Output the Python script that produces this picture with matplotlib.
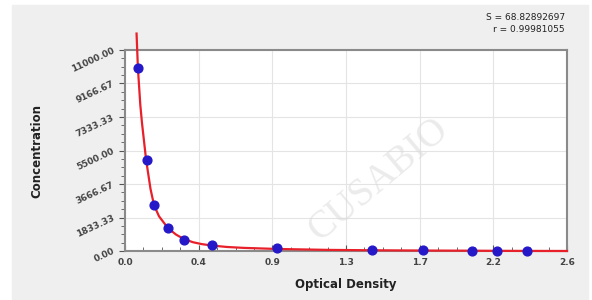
import numpy as np
import matplotlib.pyplot as plt
from matplotlib.ticker import FixedLocator, AutoMinorLocator

# standard points
od = [0.076, 0.128, 0.170, 0.253, 0.347, 0.512, 0.894, 1.453, 1.753, 2.041, 2.188, 2.365]
conc = [10000, 5000, 2500, 1250, 625, 312, 156, 78, 39, 19.5, 9.75, 0]

# fitted curve
curve_x = [0.068, 0.076, 0.09, 0.10, 0.124, 0.15, 0.171, 0.20, 0.253, 0.30, 0.347,
           0.40, 0.45, 0.51, 0.60, 0.70, 0.90, 1.20, 1.45, 1.75, 2.05, 2.20, 2.36, 2.60]
curve_y = [11900, 10000, 8000, 7000, 5000, 3400, 2500, 1900, 1250, 900, 650,
           480, 380, 300, 220, 170, 110, 60, 40, 25, 15, 8, 3, 0]

x_ticks = [0, 2.6 / 6, 2 * 2.6 / 6, 1.3, 4 * 2.6 / 6, 5 * 2.6 / 6, 2.6]
x_labels = ['0.0', '0.4', '0.9', '1.3', '1.7', '2.2', '2.6']
y_ticks = [0, 1833.33, 3666.67, 5500, 7333.33, 9166.67, 11000]
y_labels = ['0.00', '1833.33', '3666.67', '5500.00', '7333.33', '9166.67', '11000.00']

fig = plt.figure(figsize=(5.92, 3.0), dpi=100)
fig.patch.set_facecolor('white')
# gray panel behind the chart
fig.patches.append(plt.Rectangle((12 / 592, 0), 576 / 592, 295 / 300,
                                 transform=fig.transFigure, color='#efefef', zorder=-10))

ax = fig.add_axes([125 / 592, 49 / 300, 442 / 592, 201 / 300])
ax.set_facecolor('white')

ax.plot(curve_x, curve_y, color='#e8202a', lw=1.6, zorder=3, clip_on=False)
ax.scatter(od, conc, s=40, color='#2418c8', edgecolor='#2418c8', zorder=4, clip_on=False)

ax.set_xlim(0, 2.6)
ax.set_ylim(0, 11000)
ax.xaxis.set_major_locator(FixedLocator(x_ticks))
ax.set_xticklabels(x_labels)
ax.yaxis.set_major_locator(FixedLocator(y_ticks))
ax.set_yticklabels(y_labels, rotation=25, ha='right', va='center', rotation_mode='anchor')
ax.xaxis.set_minor_locator(AutoMinorLocator(4))
ax.yaxis.set_minor_locator(AutoMinorLocator(4))

ax.grid(True, which='major', color='#e4e4e4', lw=0.8)
ax.set_axisbelow(True)
for s in ax.spines.values():
    s.set_color('#8a8a8a')
    s.set_linewidth(1.5)

ax.tick_params(axis='x', which='both', direction='in', colors='#555555', labelcolor='#444444',
               labelsize=6.5, pad=5)
ax.tick_params(axis='x', which='major', length=4)
ax.tick_params(axis='x', which='minor', length=3)
ax.tick_params(axis='y', which='both', direction='out', colors='#555555', labelcolor='#444444',
               labelsize=6.5, pad=4)
ax.tick_params(axis='y', which='major', length=4)
ax.tick_params(axis='y', which='minor', length=3)
for lab in ax.get_xticklabels() + ax.get_yticklabels():
    lab.set_fontweight('bold')

ax.set_xlabel('Optical Density', fontsize=8.5, fontweight='bold', color='#222222', labelpad=8)
ax.set_ylabel('Concentration', fontsize=8.5, fontweight='bold', color='#222222', labelpad=19)

fig.text(565 / 592, 1 - 17 / 300, 'S = 68.82892697', ha='right', va='center', fontsize=6.5, color='#222222')
fig.text(565 / 592, 1 - 29 / 300, 'r = 0.99981055', ha='right', va='center', fontsize=6.5, color='#222222')

# faint watermark
fig.text(0.64, 0.40, 'CUSABIO', rotation=40, fontsize=28, color='#d8d8d8', alpha=0.5,
         family='Liberation Serif', ha='center', va='center', zorder=10)

fig.savefig('out.png', dpi=100)
